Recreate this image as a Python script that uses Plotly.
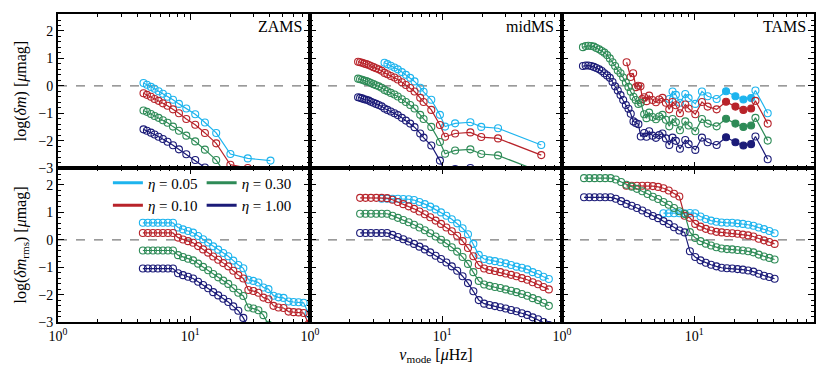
import plotly.graph_objects as go
from plotly.subplots import make_subplots

FONT = "Liberation Serif"

# ---- series styling per eta ----
ETAS = ["0.05", "0.10", "0.30", "1.00"]
COLORS = ["#1DB4EE", "#B8232A", "#2E8B57", "#1B1B78"]

# ---- axis ticks ----
X_TICKS = [1, 10]
X_TICKTEXT = ["10<sup>0</sup>", "10<sup>1</sup>"]
X_MINOR = [2, 3, 4, 5, 6, 7, 8, 9, 20, 30, 40, 50, 60, 70, 80]

# ---- ZAMS, log(dm) ----
zams_nu = [4.43, 4.70, 5.04, 5.37, 5.76, 6.21, 6.73, 7.40, 8.21, 9.33, 10.9, 12.9, 15.7, 20.1, 27.2, 40.4]
zams_dm_05 = [0.10, 0.04, -0.04, -0.11, -0.20, -0.29, -0.40, -0.51, -0.66, -0.83, -1.04, -1.34, -1.72, -2.49, -2.65, -2.73]
zams_dm_10 = [-0.27, -0.33, -0.40, -0.48, -0.55, -0.64, -0.73, -0.86, -1.00, -1.21, -1.42, -1.72, -2.10, -2.88, -3.00, -3.10]
zams_dm_30 = [-0.90, -0.95, -1.03, -1.10, -1.17, -1.26, -1.35, -1.49, -1.64, -1.82, -2.03, -2.33, -2.71, -3.49]
zams_dm_100 = [-1.59, -1.64, -1.71, -1.78, -1.86, -1.94, -2.04, -2.17, -2.32, -2.50, -2.71, -2.98, -3.40]

# ---- midMS, log(dm) ----
mid_nu = [2.31, 2.39, 2.48, 2.57, 2.67, 2.78, 2.89, 3.02, 3.16, 3.31, 3.48, 3.66, 3.85, 4.08, 4.35,
          4.61, 4.95, 5.31, 5.72, 6.17, 6.81, 7.22, 8.26, 9.60, 10.5, 12.5, 16.3, 19.7, 26.4, 56.0]
mid_nu_05 = [3.66, 3.85, 4.08, 4.35, 4.61, 4.95, 5.31, 5.72, 6.17, 6.81, 7.22, 8.26, 9.60, 10.5, 12.5,
             16.3, 19.7, 26.4, 56.0]
mid_dm_05 = [0.84, 0.79, 0.73, 0.67, 0.60, 0.50, 0.40, 0.29, 0.16, -0.07, -0.22, -0.51, -1.06, -1.49, -1.37,
             -1.33, -1.50, -1.55, -2.16]
mid_dm_10 = [0.88, 0.86, 0.84, 0.81, 0.79, 0.76, 0.72, 0.68, 0.64, 0.60, 0.55, 0.47, 0.42, 0.36, 0.30,
             0.23, 0.13, 0.03, -0.08, -0.21, -0.44, -0.59, -0.88, -1.43, -1.86, -1.74, -1.70, -1.87, -1.92, -2.53]
mid_dm_30 = [0.26, 0.24, 0.22, 0.19, 0.17, 0.14, 0.10, 0.06, 0.02, -0.02, -0.07, -0.15, -0.20, -0.26, -0.32,
             -0.39, -0.49, -0.59, -0.70, -0.83, -1.06, -1.21, -1.50, -2.05, -2.48, -2.36, -2.32, -2.49, -2.54, -3.15]
mid_dm_100 = [-0.42, -0.44, -0.46, -0.49, -0.51, -0.54, -0.58, -0.62, -0.66, -0.70, -0.75, -0.83, -0.88, -0.94,
              -1.00, -1.07, -1.17, -1.27, -1.38, -1.51, -1.74, -1.89, -2.18, -2.73, -3.16, -3.04, -3.00, -3.17, -3.22]

# ---- TAMS, log(dm) ----
tams_nu_low = [1.44, 1.51, 1.58, 1.66, 1.74, 1.82, 1.91, 2.00, 2.09, 2.19, 2.30, 2.41, 2.52, 2.64, 2.77,
               2.90, 3.04, 3.18, 3.31, 3.47, 3.61, 3.78, 3.94]
tams_nu_red_low = [3.08, 3.30, 3.45, 3.62, 3.76, 3.92, 4.05]
tams_nu_mid = [4.18, 4.35, 4.56, 4.83, 5.13, 5.43, 5.75, 6.10]
tams_nu_high = [6.47, 6.85, 7.26, 7.79, 8.55, 9.06, 10.18, 11.43, 12.62, 14.76, 17.38, 20.46, 23.51, 26.89,
                29.0, 35.9]
tams_filled_nu = [17.38, 20.46, 23.51, 26.89]

tams_dm_05 = [-0.48, -0.21, -0.33, -0.62, -0.30, -0.45, -0.66, -0.21, -0.38, -0.48, -0.20, -0.38, -0.50,
              -0.45, -0.17, -1.00]
tams_dm_10 = ([0.86, 0.32, 0.46, -0.05, 0.00, -0.02, -0.48]
              + [-0.42, -0.56, -0.36, -0.52, -0.60, -0.50, -0.44, -0.62]
              + [-0.86, -0.59, -0.71, -1.00, -0.68, -0.83, -1.04, -0.59, -0.76, -0.86, -0.58, -0.76, -0.88,
                 -0.83, -0.55, -1.38])
tams_dm_30 = ([1.41, 1.45, 1.46, 1.45, 1.43, 1.38, 1.33, 1.27, 1.21, 1.12, 1.00, 0.86, 0.72, 0.56, 0.46,
               0.30, 0.12, -0.04, -0.22, -0.40, -0.52, -0.66, -0.62]
              + [-1.04, -1.18, -0.98, -1.14, -1.22, -1.12, -1.06, -1.24]
              + [-1.48, -1.21, -1.33, -1.62, -1.30, -1.45, -1.66, -1.21, -1.38, -1.48, -1.20, -1.38, -1.50,
                 -1.45, -1.17, -2.00])
tams_dm_100 = ([0.72, 0.74, 0.74, 0.72, 0.69, 0.65, 0.60, 0.54, 0.46, 0.38, 0.29, 0.14, -0.02, -0.17, -0.34,
                -0.52, -0.70, -0.84, -1.02, -1.30, -1.36, -1.40, -1.85]
               + [-1.72, -1.86, -1.66, -1.82, -1.90, -1.80, -1.74, -1.92]
               + [-2.16, -1.89, -2.01, -2.30, -1.98, -2.13, -2.34, -1.89, -2.06, -2.16, -1.88, -2.06, -2.18,
                  -2.13, -1.85, -2.68])

# ---- ZAMS, log(dm_rms) ----
zams_rms_nu = [4.38, 4.78, 5.22, 5.69, 6.21, 6.78, 7.40, 8.08, 8.81, 9.62, 10.5, 11.46, 12.5, 13.65, 14.9,
               16.26, 17.75, 19.37, 21.14, 23.07, 25.18, 27.48, 29.99, 32.73, 35.72, 38.99, 42.55, 46.44,
               50.69, 55.32, 60.38, 65.9, 71.92, 78.5]
zams_rms_05 = [0.62, 0.62, 0.62, 0.62, 0.62, 0.62, 0.62, 0.45, 0.38, 0.32, 0.26, 0.14, 0.02, -0.10, -0.24,
               -0.36, -0.48, -0.60, -0.76, -0.92, -1.04, -1.46, -1.50, -1.56, -1.74, -1.80, -2.04, -2.10,
               -2.12, -2.25, -2.27, -2.28, -2.30, -2.70]
zams_rms_10 = [0.25, 0.25, 0.25, 0.25, 0.25, 0.25, 0.25, 0.08, 0.01, -0.05, -0.11, -0.23, -0.35, -0.47, -0.61,
               -0.73, -0.85, -0.97, -1.13, -1.29, -1.41, -1.83, -1.87, -1.93, -2.11, -2.17, -2.41, -2.47,
               -2.49, -2.62, -2.64, -2.65, -2.67, -3.07]
zams_rms_30 = [-0.39, -0.39, -0.39, -0.39, -0.39, -0.39, -0.39, -0.56, -0.63, -0.69, -0.75, -0.87, -0.99,
               -1.11, -1.25, -1.37, -1.49, -1.61, -1.77, -1.93, -2.05, -2.47, -2.51, -2.57, -2.75, -3.10]
zams_rms_100 = [-1.05, -1.05, -1.05, -1.05, -1.05, -1.05, -1.05, -1.22, -1.29, -1.35, -1.41, -1.53, -1.65,
                -1.77, -1.91, -2.03, -2.15, -2.27, -2.43, -2.59, -2.85, -3.20]

# ---- midMS, log(dm_rms) ----
mid_rms_nu = [2.393, 2.629, 2.887, 3.171, 3.483, 3.826, 4.203, 4.616, 5.071, 5.570, 6.118, 6.720, 7.381,
              8.107, 8.905, 9.781, 10.74, 11.80, 12.96, 14.24, 15.64, 17.18, 18.87, 20.72, 22.76, 25.00,
              27.46, 30.16, 33.13, 36.39, 39.97, 43.91, 48.23, 52.97, 58.18, 63.91]
mid_rms_05 = [1.50, 1.50, 1.50, 1.50, 1.49, 1.48, 1.45, 1.38, 1.30, 1.21, 1.11, 1.00, 0.88, 0.75, 0.60, 0.42,
              0.20, -0.15, -0.55, -0.70, -0.75, -0.78, -0.82, -0.86, -0.92, -0.98, -1.02, -1.08, -1.18,
              -1.25, -1.35, -1.43]
mid_rms_10 = [1.53, 1.53, 1.53, 1.53, 1.53, 1.52, 1.46, 1.38, 1.30, 1.22, 1.13, 1.03, 0.93, 0.82, 0.70, 0.58,
              0.45, 0.31, 0.15, -0.05, -0.30, -0.60, -0.92, -1.05, -1.10, -1.14, -1.18, -1.23, -1.28, -1.33,
              -1.40, -1.46, -1.55, -1.62, -1.72, -1.81]
mid_rms_30 = [0.95, 0.95, 0.95, 0.95, 0.95, 0.95, 0.88, 0.80, 0.72, 0.64, 0.55, 0.45, 0.35, 0.24, 0.12, 0.00,
              -0.13, -0.27, -0.43, -0.63, -0.88, -1.18, -1.50, -1.63, -1.68, -1.72, -1.76, -1.81, -1.86,
              -1.91, -1.98, -2.04, -2.13, -2.20, -2.30, -2.41]
mid_rms_100 = [0.25, 0.25, 0.25, 0.25, 0.25, 0.25, 0.18, 0.10, 0.02, -0.06, -0.15, -0.25, -0.35, -0.46, -0.58,
               -0.70, -0.83, -0.97, -1.13, -1.33, -1.58, -1.88, -2.20, -2.33, -2.38, -2.42, -2.46, -2.51,
               -2.56, -2.61, -2.68, -2.74, -2.83, -2.90, -3.00, -3.11]

# ---- TAMS, log(dm_rms) ----
tams_rms_nu = [1.468, 1.610, 1.765, 1.935, 2.122, 2.327, 2.551, 2.797, 3.067, 3.363, 3.688, 4.044, 4.434,
               4.862, 5.331, 5.846, 6.410, 7.028, 7.707, 8.450, 9.266, 10.16, 11.14, 12.22, 13.39, 14.69,
               16.10, 17.66, 19.36, 21.23, 23.28, 25.53, 27.99, 30.69, 33.66, 36.90, 40.47]
tams_rms_05 = [0.97, 0.97, 0.97, 0.97, 0.97, 0.98, 0.97, 0.85, 0.76, 0.70, 0.66, 0.63, 0.62, 0.62, 0.60,
               0.58, 0.55, 0.51, 0.45, 0.39, 0.32, 0.24]
tams_rms_10 = [1.97, 1.97, 1.97, 1.97, 1.97, 1.96, 1.93, 1.88, 1.80, 1.68, 1.58, 0.88, 0.80, 0.58, 0.48,
               0.40, 0.34, 0.29, 0.27, 0.25, 0.24, 0.22, 0.19, 0.16, 0.12, 0.04, -0.02, -0.08, -0.15]
tams_rms_30 = [2.25, 2.25, 2.25, 2.25, 2.25, 2.25, 2.20, 2.11, 2.01, 1.94, 1.86, 1.77, 1.67, 1.57, 1.49,
               1.38, 1.28, 1.16, 1.04, 0.94, 0.28, 0.07, -0.05, -0.14, -0.21, -0.27, -0.32, -0.34, -0.35,
               -0.37, -0.39, -0.42, -0.46, -0.54, -0.61, -0.66, -0.72]
tams_rms_100 = [1.55, 1.55, 1.55, 1.55, 1.55, 1.55, 1.50, 1.41, 1.31, 1.24, 1.16, 1.07, 0.97, 0.87, 0.79,
                0.68, 0.58, 0.46, 0.34, 0.27, -0.42, -0.63, -0.75, -0.84, -0.91, -0.97, -1.02, -1.04, -1.05,
                -1.07, -1.09, -1.12, -1.16, -1.24, -1.31, -1.36, -1.42]

PANEL_LABELS = ["ZAMS", "midMS", "TAMS"]


fig = make_subplots(rows=2, cols=3, horizontal_spacing=0, vertical_spacing=0)


def add_series(x, y, color, row, col, filled=None):
    x = x[:len(y)]
    symbols = ["circle" if (filled and v in filled) else "circle-open" for v in x]
    fig.add_trace(go.Scatter(
        x=x, y=y, mode="lines+markers",
        line=dict(color=color, width=1.2),
        marker=dict(symbol=symbols, size=7, color=color,
                    line=dict(color=color, width=1.1)),
        showlegend=False, hoverinfo="skip"
    ), row=row, col=col)


# top row: amplitudes
add_series(zams_nu, zams_dm_05, COLORS[0], 1, 1)
add_series(zams_nu, zams_dm_10, COLORS[1], 1, 1)
add_series(zams_nu, zams_dm_30, COLORS[2], 1, 1)
add_series(zams_nu, zams_dm_100, COLORS[3], 1, 1)

add_series(mid_nu_05, mid_dm_05, COLORS[0], 1, 2)
add_series(mid_nu, mid_dm_10, COLORS[1], 1, 2)
add_series(mid_nu, mid_dm_30, COLORS[2], 1, 2)
add_series(mid_nu, mid_dm_100, COLORS[3], 1, 2)

add_series(tams_nu_high, tams_dm_05, COLORS[0], 1, 3, tams_filled_nu)
add_series(tams_nu_red_low + tams_nu_mid + tams_nu_high, tams_dm_10, COLORS[1], 1, 3, tams_filled_nu)
add_series(tams_nu_low + tams_nu_mid + tams_nu_high, tams_dm_30, COLORS[2], 1, 3, tams_filled_nu)
add_series(tams_nu_low + tams_nu_mid + tams_nu_high, tams_dm_100, COLORS[3], 1, 3, tams_filled_nu)

# bottom row: rms amplitudes
add_series(zams_rms_nu, zams_rms_05, COLORS[0], 2, 1)
add_series(zams_rms_nu, zams_rms_10, COLORS[1], 2, 1)
add_series(zams_rms_nu, zams_rms_30, COLORS[2], 2, 1)
add_series(zams_rms_nu, zams_rms_100, COLORS[3], 2, 1)

add_series(mid_rms_nu[4:], mid_rms_05, COLORS[0], 2, 2)
add_series(mid_rms_nu, mid_rms_10, COLORS[1], 2, 2)
add_series(mid_rms_nu, mid_rms_30, COLORS[2], 2, 2)
add_series(mid_rms_nu, mid_rms_100, COLORS[3], 2, 2)

add_series(tams_rms_nu[15:], tams_rms_05, COLORS[0], 2, 3)
add_series(tams_rms_nu[8:], tams_rms_10, COLORS[1], 2, 3)
add_series(tams_rms_nu, tams_rms_30, COLORS[2], 2, 3)
add_series(tams_rms_nu, tams_rms_100, COLORS[3], 2, 3)

# legend entries (line only), split over two legends
for i, (eta, color) in enumerate(zip(ETAS, COLORS)):
    fig.add_trace(go.Scatter(
        x=[None], y=[None], mode="lines", line=dict(color=color, width=3),
        name=f"<i>η</i> = {eta}", legend="legend" if i < 2 else "legend2"
    ), row=2, col=1)

# dashed zero lines
for r in (1, 2):
    for c in (1, 2, 3):
        fig.add_hline(y=0, line=dict(color="#7a7a7a", width=1.2, dash="dash"),
                      layer="below", row=r, col=c)

for c, label in enumerate(PANEL_LABELS, start=1):
    fig.add_annotation(text=label, xref=f"x{'' if c == 1 else c} domain", yref=f"y{'' if c == 1 else c} domain",
                       x=0.975, y=0.985, xanchor="right", yanchor="top", showarrow=False,
                       font=dict(family=FONT, size=16, color="black"))

axis_common = dict(showline=True, linewidth=1.8, linecolor="black", mirror="allticks",
                   ticks="inside", ticklen=6, tickwidth=1.2, tickcolor="black",
                   showgrid=False, zeroline=False, automargin=False,
                   tickfont=dict(family=FONT, size=14, color="black"))

fig.update_xaxes(type="log", range=[0, 1.905], tickmode="array", tickvals=X_TICKS, ticktext=X_TICKTEXT,
                 minor=dict(tickmode="array", tickvals=X_MINOR, ticks="inside", ticklen=3.5,
                            tickwidth=1, tickcolor="black"),
                 **axis_common)
fig.update_yaxes(range=[-3, 2.62], tickmode="linear", tick0=0, dtick=1,
                 minor=dict(dtick=0.2, ticks="inside", ticklen=3.5, tickwidth=1, tickcolor="black"),
                 **axis_common)
fig.update_xaxes(showticklabels=False, row=1)
fig.update_yaxes(showticklabels=False, col=2)
fig.update_yaxes(showticklabels=False, col=3)

fig.update_yaxes(title=dict(text="log(<i>δm</i>) [<i>μ</i>mag]", font=dict(family=FONT, size=16, color="black"),
                            standoff=8), row=1, col=1)
fig.update_yaxes(title=dict(text="log(<i>δm</i><sub>rms</sub>) [<i>μ</i>mag]",
                            font=dict(family=FONT, size=16, color="black"), standoff=8), row=2, col=1)
fig.update_xaxes(title=dict(text="<i>ν</i><sub>mode</sub> [<i>μ</i>Hz]",
                            font=dict(family=FONT, size=16, color="black"), standoff=6), row=2, col=2)

legend_common = dict(xanchor="left", yanchor="top", bgcolor="rgba(0,0,0,0)", borderwidth=0,
                     font=dict(family=FONT, size=15, color="black"), tracegroupgap=0,
                     itemwidth=30)
fig.update_layout(
    width=830, height=366,
    margin=dict(l=58, r=16, t=14, b=44),
    plot_bgcolor="white", paper_bgcolor="white",
    font=dict(family=FONT, color="black"),
    legend=dict(x=0.066, y=0.505, **legend_common),
    legend2=dict(x=0.190, y=0.505, **legend_common),
)

# the page's default body margin would shift the figure by 8 px
fig.write_html("out.html", config={"displayModeBar": False},
               post_script="document.body.style.margin = '0px';")
